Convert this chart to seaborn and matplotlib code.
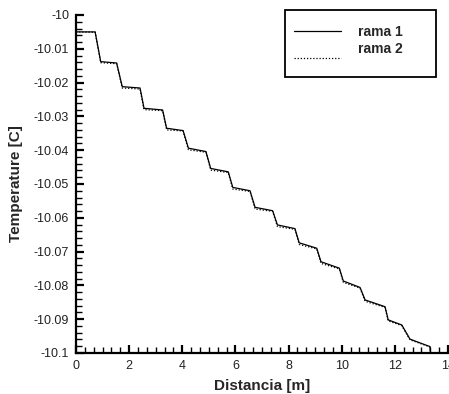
import numpy as np
import pandas as pd
import matplotlib
matplotlib.use("Agg")
import matplotlib.pyplot as plt
from matplotlib.patches import Rectangle
from matplotlib.ticker import MultipleLocator, FuncFormatter
import seaborn as sns

# Distance along each branch [m] and temperature [C]
dist_1 = [0.00, 0.72, 0.93, 1.53, 1.74, 2.41, 2.56, 3.26, 3.41, 4.03, 4.23,
          4.89, 5.07, 5.73, 5.90, 6.55, 6.74, 7.40, 7.58, 8.24, 8.40, 9.06,
          9.22, 9.91, 10.06, 10.69, 10.88, 11.63, 11.75, 12.26, 12.57, 13.32, 13.34]
temp_1 = [-10.0050, -10.0050, -10.0138, -10.0142, -10.0212, -10.0216, -10.0276,
          -10.0281, -10.0335, -10.0342, -10.0394, -10.0404, -10.0454, -10.0464,
          -10.0510, -10.0520, -10.0569, -10.0579, -10.0621, -10.0632, -10.0674,
          -10.0690, -10.0730, -10.0749, -10.0787, -10.0806, -10.0843, -10.0863,
          -10.0902, -10.0917, -10.0959, -10.0981, -10.0997]

dist_2 = [0.00, 0.72, 0.93, 1.53, 1.74, 2.41, 2.56, 3.26, 3.41, 4.03, 4.23,
          4.89, 5.07, 5.73, 5.90, 6.55, 6.74, 7.40, 7.58, 8.24, 8.40, 9.06,
          9.22, 9.91, 10.06, 10.69, 10.88, 11.63, 11.75, 12.26, 12.57, 13.32, 13.34]
temp_2 = [-10.0050, -10.0051, -10.0141, -10.0144, -10.0216, -10.0219, -10.0280,
          -10.0283, -10.0340, -10.0343, -10.0399, -10.0406, -10.0459, -10.0466,
          -10.0515, -10.0522, -10.0574, -10.0581, -10.0626, -10.0634, -10.0679,
          -10.0692, -10.0735, -10.0751, -10.0791, -10.0808, -10.0847, -10.0865,
          -10.0905, -10.0919, -10.0961, -10.0982, -10.0998]

series_names = ["rama 1", "rama 2"]
x_label = "Distancia [m]"
y_label = "Temperature [C]"

df = pd.concat([
    pd.DataFrame({"dist": dist_1, "temp": temp_1, "serie": series_names[0]}),
    pd.DataFrame({"dist": dist_2, "temp": temp_2, "serie": series_names[1]}),
], ignore_index=True)

sns.set_theme(style="white")
plt.rcParams["font.family"] = ["Liberation Sans", "DejaVu Sans"]

W, H = 449, 394
fig = plt.figure(figsize=(W / 100, H / 100), dpi=100)
ax = fig.add_axes([76 / W, 41 / H, 372 / W, 338 / H])

sns.lineplot(data=df, x="dist", y="temp", hue="serie", style="serie",
             palette={"rama 1": "black", "rama 2": "black"},
             dashes={"rama 1": "", "rama 2": (1, 1.5)},
             sort=False, estimator=None, linewidth=0.9, ax=ax)

ax.set_xlim(0, 14)
ax.set_ylim(-10.1, -10.0)

ax.xaxis.set_major_locator(MultipleLocator(2))
ax.xaxis.set_minor_locator(MultipleLocator(2 / 6))
ax.yaxis.set_major_locator(MultipleLocator(0.01))
ax.yaxis.set_minor_locator(MultipleLocator(0.002))
ax.yaxis.set_major_formatter(FuncFormatter(lambda v, p: f"{v:.2f}".rstrip("0").rstrip(".")))
ax.xaxis.set_major_formatter(FuncFormatter(lambda v, p: f"{v:g}"))

for side in ("top", "right"):
    ax.spines[side].set_visible(False)
for side in ("left", "bottom"):
    ax.spines[side].set_linewidth(1.6)
    ax.spines[side].set_color("black")

ax.tick_params(which="major", direction="in", length=6, width=1.6, color="black",
               labelsize=9, labelcolor="#222222", pad=5,
               left=True, bottom=True)
ax.tick_params(which="minor", direction="in", length=4, width=1.0, color="black",
               left=True, bottom=True)

ax.set_xlabel(x_label, fontsize=11, fontweight="bold", labelpad=5)
ax.set_ylabel(y_label, fontsize=11, fontweight="bold", labelpad=8)

# Legend: entries without frame, framed by a separate box
leg = ax.legend(loc="upper left", bbox_to_anchor=(294 / W, 1 - 25 / H),
                bbox_transform=fig.transFigure, frameon=False,
                handlelength=3.4, handletextpad=1.2, borderpad=0,
                borderaxespad=0, labelspacing=0.25,
                prop={"weight": "bold", "size": 10})
leg.set_title(None)
dotted = leg.get_lines()[1]
dotted.set_ydata(np.asarray(dotted.get_ydata()) - 7)

fig.add_artist(Rectangle((285 / W, 1 - 77 / H), 151 / W, 67 / H,
                         transform=fig.transFigure, fill=False,
                         edgecolor="black", linewidth=1.3))

fig.savefig("out.png", dpi=100)
